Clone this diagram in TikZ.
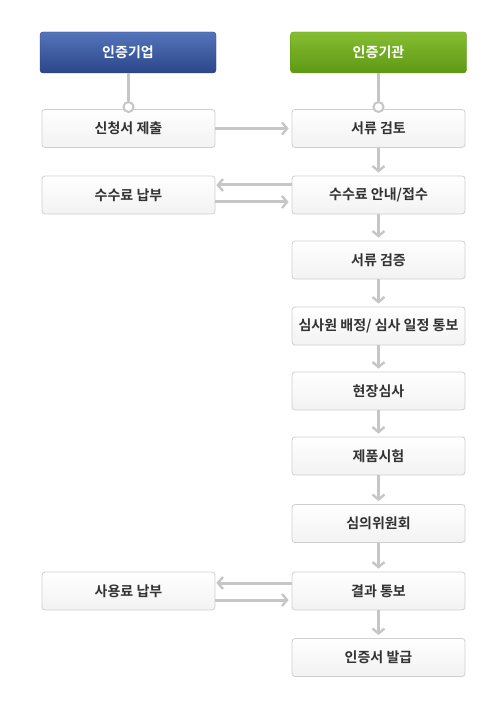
\documentclass[tikz,border=0pt]{standalone}
\usepackage{fontspec}
\newfontfamily\kr{Noto Sans CJK KR}[BoldFont={Noto Sans CJK KR Bold}]
\usetikzlibrary{arrows.meta}
\definecolor{lnc}{HTML}{C6C6C6}
\definecolor{bxb}{HTML}{CFCFCF}
\definecolor{txt}{HTML}{333333}
\definecolor{bluet}{HTML}{5474BB}
\definecolor{blueb}{HTML}{2B4689}
\definecolor{greent}{HTML}{86BE32}
\definecolor{greenb}{HTML}{5E9814}
\tikzset{
  stepbox/.style={draw=bxb, line width=0.8pt, rounded corners=3pt, minimum width=173pt, minimum height=38pt,
    top color=white, bottom color=black!5, inner sep=0pt, font=\kr\bfseries\fontsize{14}{16}\selectfont, text=txt},
  hdrblue/.style={draw=blueb!90!black, rounded corners=3pt, minimum width=176pt, minimum height=41pt,
    top color=bluet, bottom color=blueb, inner sep=0pt, font=\kr\bfseries\fontsize{14}{16}\selectfont, text=white},
  hdrgreen/.style={draw=greenb, rounded corners=3pt, minimum width=176pt, minimum height=41pt,
    top color=greent, bottom color=greenb, inner sep=0pt, font=\kr\bfseries\fontsize{14}{16}\selectfont, text=white},
  conn/.style={draw=lnc, line width=3pt},
  arr/.style={conn, -{Straight Barb[length=5pt,width=12pt,line width=2.4pt]}, shorten >=3pt},
  dot/.style={circle, draw=lnc, fill=white, line width=2pt, minimum size=10pt, inner sep=0pt},
}
\begin{document}
\begin{tikzpicture}[x=1pt,y=-1pt]
\useasboundingbox (0,0) rectangle (503,708);
% headers
\node[hdrblue] (hl) at (128,52.5) {인증기업};
\node[hdrgreen] (hr) at (378.5,52.5) {인증기관};
% left boxes
\node[stepbox] (l1) at (128.5,128.5) {신청서 제출};
\node[stepbox] (l2) at (128.5,195) {수수료 납부};
\node[stepbox] (l8) at (128.5,591) {사용료 납부};
% right boxes
\node[stepbox] (r1) at (378.5,128.5) {서류 검토};
\node[stepbox] (r2) at (378.5,195) {수수료 안내/접수};
\node[stepbox] (r3) at (378.5,260) {서류 검증};
\node[stepbox] (r4) at (378.5,326) {심사원 배정/ 심사 일정 통보};
\node[stepbox] (r5) at (378.5,391) {현장심사};
\node[stepbox] (r6) at (378.5,456) {제품시험};
\node[stepbox] (r7) at (378.5,523.5) {심의위원회};
\node[stepbox] (r8) at (378.5,591) {결과 통보};
\node[stepbox] (r9) at (378.5,657.5) {인증서 발급};
% header connectors
\node[dot] (dl) at (128.5,107) {};
\node[dot] (dr) at (378.5,107) {};
\draw[conn] (hl.south -| dl) -- (dl.north);
\draw[conn] (hr.south -| dr) -- (dr.north);
% vertical arrows
\foreach \a/\b in {r1/r2,r2/r3,r3/r4,r4/r5,r5/r6,r6/r7,r7/r8,r8/r9}
  \draw[arr] (\a.south) -- (\b.north);
% horizontal arrows
\draw[arr] (l1.east) -- (r1.west);
\draw[arr, shorten >=1pt] ([yshift=10pt]r2.west) -- ([yshift=10pt]l2.east);
\draw[arr] ([yshift=-7pt]l2.east) -- ([yshift=-7pt]r2.west);
\draw[arr, shorten >=1pt] ([yshift=8pt]r8.west) -- ([yshift=8pt]l8.east);
\draw[arr] ([yshift=-9pt]l8.east) -- ([yshift=-9pt]r8.west);
\end{tikzpicture}
\end{document}
